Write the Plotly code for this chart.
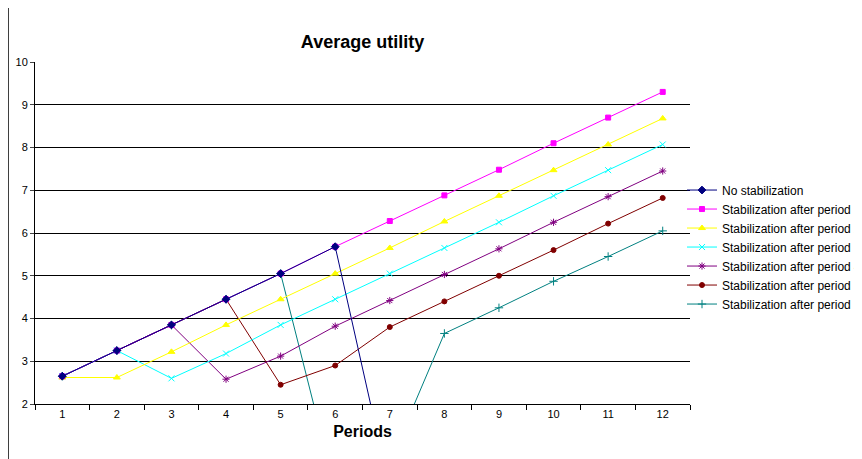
import plotly.graph_objects as go

periods = list(range(1, 13))

no_stab = [2.65, 3.25, 3.85, 4.45, 5.05, 5.68, 0.0]
stab_1 = [2.65, 3.25, 3.85, 4.45, 5.05, 5.68, 6.28, 6.88, 7.48, 8.1, 8.7, 9.3]
stab_2 = [2.62, 2.62, 3.22, 3.85, 4.45, 5.05, 5.65, 6.27, 6.87, 7.47, 8.07, 8.68]
stab_3 = [2.65, 3.25, 2.6, 3.18, 3.85, 4.45, 5.05, 5.65, 6.25, 6.87, 7.47, 8.07]
stab_4 = [2.65, 3.25, 3.85, 2.58, 3.12, 3.82, 4.42, 5.03, 5.63, 6.25, 6.85, 7.45]
stab_5 = [2.65, 3.25, 3.85, 4.45, 2.45, 2.9, 3.8, 4.4, 5.0, 5.6, 6.22, 6.82]
stab_6 = [2.65, 3.25, 3.85, 4.45, 5.05, 0.0, 0.65, 3.65, 4.25, 4.87, 5.45, 6.05]

series = [
    ("No stabilization", no_stab, "#000080", "diamond", 6),
    ("Stabilization after period 1", stab_1, "#ff00ff", "square", 5),
    ("Stabilization after period 2", stab_2, "#ffff00", "triangle-up", 6),
    ("Stabilization after period 3", stab_3, "#00ffff", "x-thin", 6),
    ("Stabilization after period 4", stab_4, "#800080", "asterisk", 6),
    ("Stabilization after period 5", stab_5, "#800000", "circle", 5),
    ("Stabilization after period 6", stab_6, "#008080", "cross-thin", 6),
]

fig = go.Figure()
# draw so that the first series sits on top, like the original
for name, vals, color, sym, size in reversed(series):
    fig.add_trace(go.Scatter(
        x=periods[:len(vals)], y=vals, mode='lines+markers', name=name,
        line=dict(color=color, width=1),
        marker=dict(color=color, symbol=sym, size=size, line=dict(color=color, width=1)),
    ))

fig.update_layout(
    width=862, height=459,
    margin=dict(l=27, r=180, t=54, b=63, autoexpand=False),
    paper_bgcolor='white', plot_bgcolor='white',
    font=dict(family='Liberation Sans, Arial', size=11, color='black'),
    title=dict(text='<b>Average utility</b>', x=(27 + 655 / 2) / 862, xanchor='center',
               y=1 - 34 / 459, yanchor='middle', font=dict(size=18)),
    legend=dict(x=1 - 8 / 655, y=0.668, xanchor='left', yanchor='top', traceorder='reversed',
                font=dict(size=12), bgcolor='rgba(0,0,0,0)', itemwidth=30, tracegroupgap=0),
    xaxis=dict(range=[0.5, 12.5], tickvals=periods, ticks='', showgrid=False, zeroline=False,
               showline=True, linecolor='black', linewidth=1, automargin=False,
               minor=dict(tick0=0.5, dtick=1, ticks='outside', ticklen=5, tickcolor='black'),
               title=dict(text='<b>Periods</b>', font=dict(size=16), standoff=6)),
    yaxis=dict(range=[2, 10], dtick=1, showgrid=True, gridcolor='black', gridwidth=1,
               automargin=False, zeroline=False, showline=True, linecolor='black',
               ticks='outside', ticklen=4),
    shapes=[dict(type='rect', xref='paper', yref='paper', x0=-27 / 655, x1=1.3,
                 y0=-0.3, y1=1 + 60 / 342, line=dict(color='black', width=1.5))],
)

fig.write_html("out.html")
